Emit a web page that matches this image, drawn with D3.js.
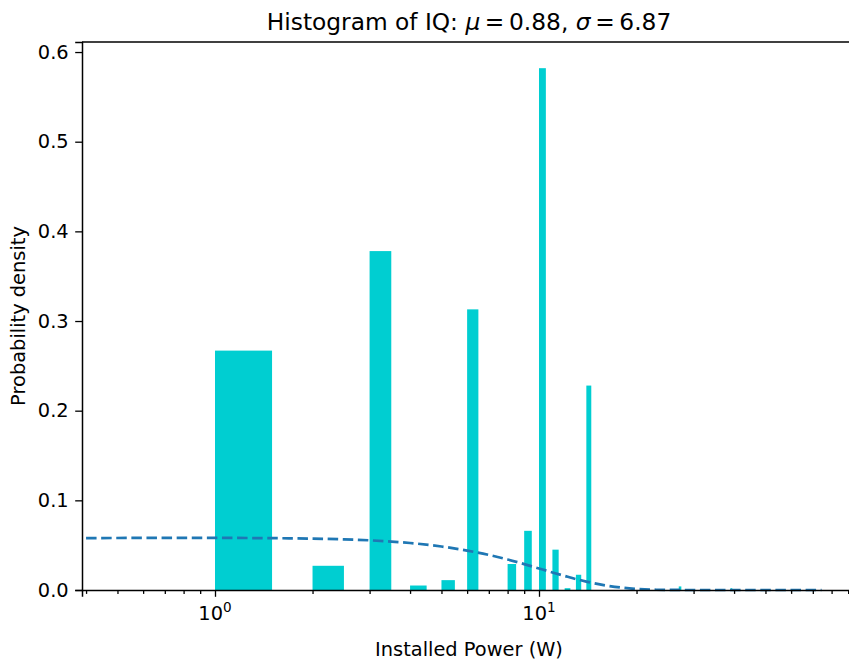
<!DOCTYPE html>
<html>
<head>
<meta charset="utf-8">
<script src="https://cdn.jsdelivr.net/npm/d3@7"></script>
<style>
  html, body { margin: 0; padding: 0; background: #fff; }
  svg { display: block; }
  text { font-family: "DejaVu Sans", sans-serif; fill: #000; }
</style>
</head>
<body>
<svg id="chart" width="849" height="661"></svg>
<script>
// ---- data ----
const binStarts = [1, 2, 3, 4, 5, 6, 8, 9, 10, 11, 12, 13, 14, 27, 39];
const binHeights = [0.267, 0.027, 0.378, 0.005, 0.011, 0.313, 0.029, 0.066, 0.582, 0.045, 0.002, 0.017, 0.228, 0.004, 0.002];
const binWidth = 0.5;

const curveX = [0.4, 0.7, 1, 1.5, 2, 2.5, 3, 3.5, 4, 5, 6, 7, 8, 9, 10, 11, 12, 13, 14, 16, 18, 20, 23, 26, 30, 40, 50, 60, 74.5];
const curveY = [0.0579, 0.0581, 0.0581, 0.0578, 0.0573, 0.0565, 0.0554, 0.0540, 0.0524, 0.0485, 0.0440, 0.0391, 0.0340, 0.0289, 0.0240, 0.0196, 0.0157, 0.0122, 0.0094, 0.0052, 0.0026, 0.0012, 0.0003, 0.0001, 0, 0, 0, 0, 0];

const yTicks = [0, 0.1, 0.2, 0.3, 0.4, 0.5, 0.6];
const xMajorTicks = [1, 10];
const xMinorTicks = [0.4, 0.5, 0.6, 0.7, 0.8, 0.9, 2, 3, 4, 5, 6, 7, 8, 9, 20, 30, 40, 50, 60, 70, 80, 90];

const titleParts = ["Histogram of IQ: ", "\u03bc", "\u2009=\u20090.88, ", "\u03c3", "\u2009=\u20096.87"];
const xLabel = "Installed Power (W)";
const yLabel = "Probability density";

// ---- layout ----
const pLeft = 82, pRight = 856, pTop = 42, pBottom = 590;
const fs = 19.4, fsTitle = 23.3;
const svg = d3.select("#chart");

const x = d3.scaleLog().domain([0.3886, 95.15]).range([pLeft, pRight]);
const y = d3.scaleLinear().domain([0, 0.6112]).range([pBottom, pTop]);

// bars
svg.append("g").selectAll("rect")
  .data(binStarts.map((s, i) => ({ s, h: binHeights[i] })))
  .join("rect")
  .attr("x", d => x(d.s))
  .attr("width", d => x(d.s + binWidth) - x(d.s))
  .attr("y", d => y(d.h))
  .attr("height", d => y(0) - y(d.h))
  .attr("fill", "#00ced1");

// normal curve
const line = d3.line().x(d => x(d[0])).y(d => y(d[1])).curve(d3.curveMonotoneX);
svg.append("path")
  .datum(curveX.map((v, i) => [v, curveY[i]]))
  .attr("d", line)
  .attr("fill", "none")
  .attr("stroke", "#1f77b4")
  .attr("stroke-width", 2.7)
  .attr("stroke-dasharray", "10.5,4.6");

// axes
const yAxis = d3.axisLeft(y).tickValues(yTicks).tickFormat(d3.format(".1f")).tickSize(6.8).tickPadding(6.5);
const gy = svg.append("g").attr("transform", `translate(${pLeft},0)`).call(yAxis);
gy.selectAll("text").style("font-size", fs + "px").style("font-family", "DejaVu Sans");

const xMinor = d3.axisBottom(x).tickValues(xMinorTicks).tickFormat("").tickSize(3.9);
const gxm = svg.append("g").attr("transform", `translate(0,${pBottom})`).call(xMinor);
gxm.select(".domain").remove();

const xMajor = d3.axisBottom(x).tickValues(xMajorTicks).tickFormat("").tickSize(6.8);
const gx = svg.append("g").attr("transform", `translate(0,${pBottom})`).call(xMajor);

[gy, gx, gxm].forEach(g => {
  g.select(".domain").attr("stroke", "#000").attr("stroke-width", 1.5);
  g.selectAll(".tick line").attr("stroke", "#000").attr("stroke-width", 1.3);
});

// x major labels 10^n
const xl = svg.append("g");
xMajorTicks.forEach(v => {
  const t = xl.append("text")
    .attr("x", x(v))
    .attr("y", pBottom + 30)
    .attr("text-anchor", "middle")
    .style("font-size", fs + "px");
  t.append("tspan").text("10");
  t.append("tspan").attr("dy", -8).style("font-size", (fs * 0.7) + "px").text(String(Math.round(Math.log10(v))));
});

// top and right spines
svg.append("line").attr("x1", pLeft).attr("x2", pRight).attr("y1", pTop).attr("y2", pTop)
  .attr("stroke", "#000").attr("stroke-width", 1.5);
svg.append("line").attr("x1", pRight).attr("x2", pRight).attr("y1", pTop).attr("y2", pBottom)
  .attr("stroke", "#000").attr("stroke-width", 1.5);

// title
const title = svg.append("text")
  .attr("x", (pLeft + pRight) / 2)
  .attr("y", 30)
  .attr("text-anchor", "middle")
  .style("font-size", fsTitle + "px");
titleParts.forEach((p, i) => {
  const ts = title.append("tspan").text(p);
  if (i === 1 || i === 3) ts.style("font-style", "italic");
});

// axis labels
svg.append("text")
  .attr("x", (pLeft + pRight) / 2)
  .attr("y", 656)
  .attr("text-anchor", "middle")
  .style("font-size", fs + "px")
  .text(xLabel);

svg.append("text")
  .attr("transform", `translate(25,${(pTop + pBottom) / 2}) rotate(-90)`)
  .attr("text-anchor", "middle")
  .style("font-size", fs + "px")
  .text(yLabel);
</script>
</body>
</html>
